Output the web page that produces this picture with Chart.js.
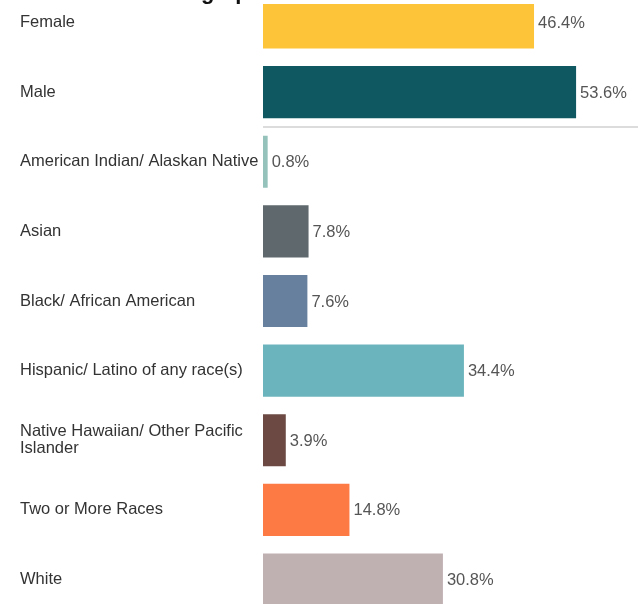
<!DOCTYPE html>
<html>
<head>
<meta charset="utf-8">
<script src="https://cdn.jsdelivr.net/npm/chart.js@4"></script>
<style>
  html, body { margin: 0; padding: 0; background: #fff; overflow: hidden; width: 638px; height: 604px; }
  #c { display: block; margin-top: -21px; }
</style>
</head>
<body>
<canvas id="c" width="638" height="644"></canvas>
<script>
const categories = [
  "Female",
  "Male",
  "American Indian/ Alaskan Native",
  "Asian",
  "Black/ African American",
  "Hispanic/ Latino of any race(s)",
  ["Native Hawaiian/ Other Pacific", "Islander"],
  "Two or More Races",
  "White"
];
const values = [46.4, 53.6, 0.8, 7.8, 7.6, 34.4, 3.9, 14.8, 30.8];
const valueLabels = ["46.4%", "53.6%", "0.8%", "7.8%", "7.6%", "34.4%", "3.9%", "14.8%", "30.8%"];
const barColors = ["#FDC339", "#0F5761", "#95C3BC", "#5F696D", "#67809E", "#6CB4BD", "#6C4A43", "#FE7A44", "#BFB0B2"];
const titleText = "Demographics";

const FONT = "'Liberation Sans', Arial, sans-serif";
const OFFSET = 21;

const extras = {
  id: 'extras',
  afterDatasetsDraw(chart) {
    const ctx = chart.ctx;
    const meta = chart.getDatasetMeta(0);
    const ys = chart.scales.y;
    ctx.save();
    ctx.font = "16.5px " + FONT;
    ctx.fillStyle = "#555";
    ctx.textAlign = "left";
    ctx.textBaseline = "middle";
    meta.data.forEach((bar, i) => {
      ctx.fillText(valueLabels[i], bar.x + 4, bar.y + 1);
    });
    const sepY = (ys.getPixelForValue(1) + ys.getPixelForValue(2)) / 2;
    ctx.strokeStyle = "#dcdcdc";
    ctx.lineWidth = 2;
    ctx.beginPath();
    ctx.moveTo(chart.chartArea.left, sepY);
    ctx.lineTo(chart.width, sepY);
    ctx.stroke();
    ctx.fillStyle = "#fff";
    ctx.fillRect(0, 0, chart.width, OFFSET + 4);
    ctx.fillStyle = "#111";
    ctx.font = "bold 22px " + FONT;
    ctx.textBaseline = "alphabetic";
    ctx.textAlign = "left";
    ctx.fillText(titleText, 140, OFFSET - 1.5);
    ctx.restore();
  }
};

new Chart(document.getElementById('c'), {
  type: 'bar',
  data: {
    labels: categories,
    datasets: [{
      data: values,
      backgroundColor: barColors,
      borderWidth: 0,
      categoryPercentage: 1,
      barPercentage: 0.75
    }]
  },
  options: {
    indexAxis: 'y',
    responsive: false,
    animation: false,
    devicePixelRatio: 1,
    layout: { padding: { left: 20, right: 0, top: 0, bottom: 0 } },
    plugins: { legend: { display: false }, tooltip: { enabled: false }, title: { display: false } },
    scales: {
      x: { display: false, min: 0, max: 64.2 },
      y: {
        grid: { display: false },
        border: { display: false },
        ticks: {
          crossAlign: 'far',
          color: '#333',
          padding: 0,
          font: { family: FONT, size: 16.5, lineHeight: 1.05 }
        },
        afterFit(scale) { scale.width = 243; }
      }
    }
  },
  plugins: [extras]
});
</script>
</body>
</html>
